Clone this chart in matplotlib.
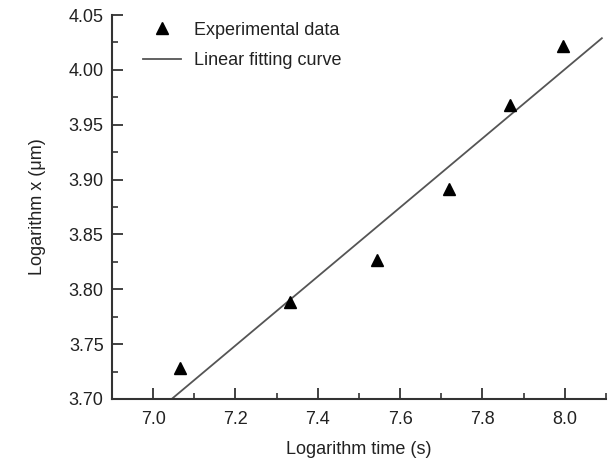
import numpy as np
import matplotlib
matplotlib.use("Agg")
import matplotlib.pyplot as plt
from matplotlib.ticker import MultipleLocator

plt.rcParams['font.family'] = ['Liberation Sans', 'DejaVu Sans']

log_time = [7.066, 7.333, 7.544, 7.719, 7.866, 7.996]
log_x = [3.728, 3.788, 3.827, 3.891, 3.968, 4.022]
fit_range = [7.0, 8.09]

fig = plt.figure(figsize=(6.11, 4.62), dpi=100)
ax = fig.add_axes([0.1833, 0.1364, 0.8085, 0.8311])

slope, intercept = np.polyfit(log_time, log_x, 1)
fx = np.array(fit_range)
ax.plot(fx, slope * fx + intercept, color='#555555', lw=1.3, label='Linear fitting curve', zorder=2)
ax.plot(log_time, log_x, linestyle='none', marker='^', color='black', markersize=9,
        label='Experimental data', zorder=3)

ax.set_xlim(6.9, 8.1)
ax.set_ylim(3.70, 4.05)
ax.xaxis.set_major_locator(MultipleLocator(0.2))
ax.xaxis.set_minor_locator(MultipleLocator(0.1))
ax.yaxis.set_major_locator(MultipleLocator(0.05))
ax.yaxis.set_minor_locator(MultipleLocator(0.025))
ax.xaxis.set_major_formatter(matplotlib.ticker.FormatStrFormatter('%.1f'))
ax.yaxis.set_major_formatter(matplotlib.ticker.FormatStrFormatter('%.2f'))

for s in ['top', 'right']:
    ax.spines[s].set_visible(False)
for s in ['left', 'bottom']:
    ax.spines[s].set_linewidth(1.5)
    ax.spines[s].set_color('#333333')
ax.tick_params(which='major', direction='in', length=8, width=1.3, labelsize=13,
               colors='#333333', labelcolor='#222222', pad=6)
ax.tick_params(axis='x', which='major', pad=9)
ax.tick_params(which='minor', direction='in', length=4, width=1.2, colors='#333333')

ax.set_xlabel('Logarithm time (s)', fontsize=13, color='#222222', labelpad=9)
ax.set_ylabel('Logarithm x (μm)', fontsize=13, color='#222222', labelpad=16)

handles, labels = ax.get_legend_handles_labels()
leg = ax.legend(handles[::-1], labels[::-1], loc='upper left', bbox_to_anchor=(0.03, 1.025),
                frameon=False, fontsize=13, handlelength=2.1, handletextpad=0.7,
                labelspacing=0.75, labelcolor='#222222')

fig.savefig('out.png', dpi=100)
